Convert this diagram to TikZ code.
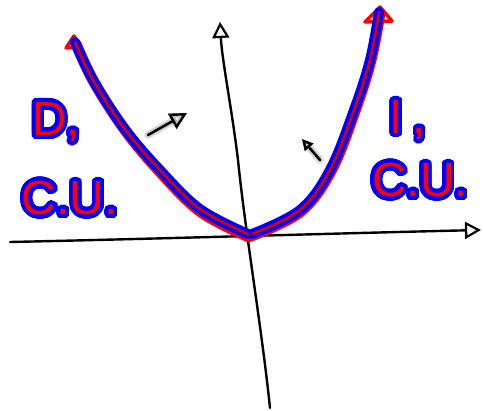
\documentclass[tikz,border=0pt]{standalone}
\usepackage{fontspec}
\setmainfont{Liberation Sans}
\usepackage{contour}
\contourlength{3.8pt}
\contournumber{40}
\usetikzlibrary{arrows.meta}
\tikzset{
  axis/.style={line width=2.4pt, black, line cap=round, line join=round},
  opentip/.style={-{Triangle[open, length=16pt, width=17pt, line width=2.2pt]}},
  redunder/.style={line width=11pt, red, line cap=round, line join=round},
  bluemid/.style={line width=10pt, blue, line cap=round, line join=round},
  redcore/.style={line width=2.6pt, red!85!black, line cap=round, line join=round},
  glowA/.style={line width=8pt, gray, opacity=0.22, line cap=round, line join=round},
  glowB/.style={line width=5pt, gray, opacity=0.3, line cap=round, line join=round},
  ink/.style={line width=2.4pt, black, line cap=round, line join=round},
  lbl/.style={font=\fontsize{48}{48}\selectfont, inner sep=0pt}
}
\begin{document}
\begin{tikzpicture}[x=1pt, y=-1pt]
\useasboundingbox (0,0) rectangle (483,411);
\fill[white] (0,0) rectangle (483,411);
% coordinates
\coordinate (xl) at (10,242);
\coordinate (xr) at (481,230);
\coordinate (yb) at (270,408);
\coordinate (yt) at (220,22);
% x axis
\draw[axis, opentip] (xl) .. controls (150,239) and (350,233) .. (xr);
% y axis
\draw[axis, opentip] (yb) .. controls (262,330) and (245,230) .. (238,160) .. controls (232,110) and (222,60) .. (yt);
% curve red underlay
\draw[redunder] plot[smooth, tension=0.6] coordinates {(76,44) (94,82) (125,130) (161,173) (201,212) (249,237)};
\draw[redunder] plot[smooth, tension=0.6] coordinates {(251,236) (300,212) (331,171) (355,111) (371,60) (380,13)};
% red end tips
\draw[red, line width=3.5pt, line join=round] (66,48) -- (74,36) -- (80,47) -- cycle;
\draw[red, line width=3.5pt, line join=round] (365,22) -- (380,7) -- (392,21) -- cycle;
% blue stroke
\draw[bluemid] plot[smooth, tension=0.6] coordinates {(75,42) (93,80) (124,128) (160,170) (200,209) (248,234)};
\draw[bluemid] plot[smooth, tension=0.6] coordinates {(252,234) (300,210) (330,170) (354,110) (370,60) (379,12)};
% red core
\draw[redcore] plot[smooth, tension=0.6] coordinates {(75,42) (93,80) (124,128) (160,170) (200,209) (248,234)};
\draw[redcore] plot[smooth, tension=0.6] coordinates {(252,234) (300,210) (330,170) (354,110) (370,60) (379,12)};
% arrows with glow
\coordinate (a1s) at (148,135);
\coordinate (a1e) at (187,113);
\coordinate (a2s) at (320,160);
\coordinate (a2e) at (302,139);
\draw[glowA, -{Triangle[open, length=17pt, width=17pt]}] (a1s) -- (a1e);
\draw[glowB, -{Triangle[open, length=17pt, width=17pt]}] (a1s) -- (a1e);
\draw[ink, -{Triangle[open, length=17pt, width=17pt, line width=2.4pt]}] (a1s) -- (a1e);
\draw[glowA, -{Triangle[open, length=11pt, width=11pt]}] (a2s) -- (a2e);
\draw[glowB, -{Triangle[open, length=11pt, width=11pt]}] (a2s) -- (a2e);
\draw[ink, -{Triangle[open, length=11pt, width=11pt, line width=2.4pt]}] (a2s) -- (a2e);
% labels
\node[lbl] (D) at (56,124) {\contour{blue}{\textcolor{red}{D,}}};
\node[lbl] (CUl) at (70,200) {\contour{blue}{\textcolor{red}{C.U.}}};
\node[lbl] (I) at (408,122) {\contour{blue}{\textcolor{red}{I\hspace{10pt},}}};
\node[lbl] (CUr) at (420,182) {\contour{blue}{\textcolor{red}{C.U.}}};
\end{tikzpicture}
\end{document}
